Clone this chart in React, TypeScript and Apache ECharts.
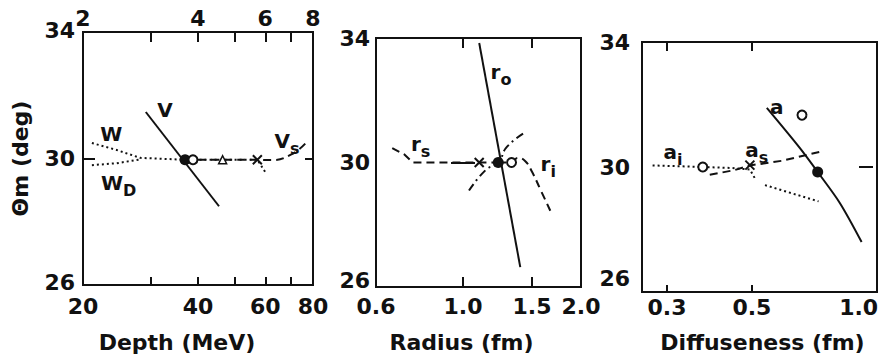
import React, { useEffect, useRef } from 'react';
import * as echarts from 'echarts';

const L = (v: number) => Math.log10(v);

// ---------- Panel 1: Depth (MeV) ----------
const depthRange = [20, 80];
const depthTicks = [30, 40, 50, 60, 70];
const depthLabels = ['20', '40', '60', '80'];
const depthTopLabels = ['2', '4', '6', '8'];
const curveW = [[21.1, 30.49], [24.5, 30.27], [28.2, 30.02], [37, 29.96], [46.4, 29.96], [57.2, 29.96], [60, 29.57]];
const curveWD = [[21.1, 29.79], [24.5, 29.85], [28.2, 29.97]];
const curveV = [[29.2, 31.47], [45.4, 28.49]];
const curveVs = [[37, 29.96], [46.4, 29.96], [57.2, 29.96], [62, 29.95], [70, 30.12], [77, 30.52]];
const depthFilled = [[37, 29.96]];
const depthOpen = [[38.8, 29.96]];
const depthTriangle = [[46.4, 29.96]];
const depthCross = [[57.2, 29.96]];
const depthNotes = [
  { text: '{m|V}', x: 32.8, y: 31.53 },
  { text: '{m|W}', x: 23.7, y: 30.77 },
  { text: '{m|W}{s|D}', x: 24.8, y: 29.22 },
  { text: '{m|V}{s|s}', x: 68.4, y: 30.55 },
];

// ---------- Panel 2: Radius (fm) ----------
const radiusRange = [0.6, 2.0];
const radiusTicks = [1.0, 1.5];
const radiusLabels = ['0.6', '1.0', '1.5', '2.0'];
const curveRo = [[1.10, 33.84], [1.40, 26.64]];
const curveRs = [[0.66, 30.46], [0.71, 30.25], [0.744, 30.0], [0.9, 30.0], [1.10, 30.0], [1.23, 30.0]];
const curveRi = [[1.23, 30.0], [1.33, 30.0], [1.38, 30.15], [1.44, 30.05], [1.50, 29.7], [1.58, 29.1], [1.67, 28.45]];
const curveRdd = [[1.036, 29.1], [1.143, 29.76], [1.23, 30.0], [1.294, 30.5], [1.445, 30.98]];
const radiusFilled = [[1.23, 30.0]];
const radiusOpen = [[1.33, 30.0]];
const radiusCross = [[1.10, 30.0]];
const radiusNotes = [
  { text: '{m|r}{s|o}', x: 1.25, y: 32.9 },
  { text: '{m|r}{s|s}', x: 0.78, y: 30.59 },
  { text: '{m|r}{s|i}', x: 1.65, y: 29.95 },
];

// ---------- Panel 3: Diffuseness (fm) ----------
const diffRange = [0.258, 1.062];
const diffTicks = [0.3, 0.5];
const diffLabels = ['0.3', '0.5', '1.0'];
const curveA = [[0.547, 31.89], [0.667, 30.61], [0.743, 29.84], [0.849, 28.85], [0.968, 27.6]];
const curveAi = [[0.275, 30.05], [0.372, 30.0], [0.44, 29.97], [0.494, 29.92], [0.51, 29.62], [null, null], [0.541, 29.42], [0.62, 29.2], [0.747, 28.9]];
const curveAs = [[0.388, 29.75], [0.45, 29.9], [0.494, 30.05], [0.60, 30.2], [0.75, 30.48]];
const diffFilled = [[0.743, 29.84]];
const diffOpen = [[0.372, 30.0], [0.676, 31.66]];
const diffCross = [[0.494, 30.06]];
const diffNotes = [
  { text: '{m|a}', x: 0.581, y: 31.92 },
  { text: '{m|a}{s|i}', x: 0.311, y: 30.48 },
  { text: '{m|a}{s|s}', x: 0.515, y: 30.54 },
];

const yRange = [26, 34];
const yLabels = [26, 30, 34];
const yTicks = [30];

const INK = '#111111';
const FONT = 'DejaVu Sans';

const toXY = (pts: any[]) => pts.map((p) => (p[0] == null ? [null, null] : [L(p[0]), p[1]]));

export default function App() {
  const ref = useRef<HTMLDivElement>(null);
  useEffect(() => {
    if (!ref.current) return;
    const chart = echarts.init(ref.current, undefined, { renderer: 'svg' });

    const txt = { fontFamily: FONT, fontWeight: 'bold' as const, fontSize: 22, color: INK };
    const gridBase = { show: true, borderColor: INK, borderWidth: 2, backgroundColor: 'transparent', outerBoundsMode: 'none' };

    const xBottom = (grid: number, range: number[], ticks: number[], labels: string[], name: string, opts: any) => {
      const maxLabelPos = L(range[1]) - (opts.edgeRoom || 0);
      const pos = labels.map((s) => Math.min(L(parseFloat(s)), maxLabelPos));
      return {
        type: 'value', gridIndex: grid, position: 'bottom',
        min: L(range[0]), max: L(range[1]),
        axisLine: { show: false },
        splitLine: { show: false },
        axisTick: { show: true, inside: true, length: opts.tickLen, lineStyle: { color: INK, width: 2 }, customValues: ticks.map(L) },
        axisLabel: {
          ...txt, margin: opts.labelMargin,
          customValues: pos,
          formatter: (v: number) => {
            let best = -1, bd = Infinity;
            pos.forEach((p, i) => { const d = Math.abs(p - v); if (d < bd) { bd = d; best = i; } });
            return best >= 0 && bd < 1e-6 ? labels[best] : '';
          },
        },
        name, nameLocation: 'middle', nameGap: opts.nameGap,
        nameTextStyle: { ...txt, padding: opts.namePad },
      };
    };
    const xTop = (grid: number, range: number[], ticks: number[], labels: string[] | null, topLabels: string[] | null, tickLen: number) => ({
      type: 'value', gridIndex: grid, position: 'top',
      min: L(range[0]), max: L(range[1]),
      axisLine: { show: false },
      splitLine: { show: false },
      axisTick: { show: true, inside: true, length: tickLen, lineStyle: { color: INK, width: 2 }, customValues: ticks.map(L) },
      axisLabel: labels && topLabels
        ? { ...txt, margin: 3, customValues: labels.map((s) => L(parseFloat(s))), formatter: (v: number) => {
            const i = labels.findIndex((s) => Math.abs(L(parseFloat(s)) - v) < 1e-6);
            return i >= 0 ? topLabels[i] : '';
          } }
        : { show: false },
    });
    const yAxis = (grid: number, side: 'left' | 'right', opts: any) => ({
      type: 'value', gridIndex: grid, position: side,
      min: yRange[0], max: yRange[1],
      axisLine: { show: false },
      splitLine: { show: false },
      axisTick: { show: true, inside: true, length: opts.tickLen, lineStyle: { color: INK, width: 2 }, customValues: yTicks },
      axisLabel: side === 'left'
        ? {
            ...txt, margin: opts.margin, customValues: yLabels,
            formatter: (v: number) => (v === yRange[0] ? `{lo|${v}}` : v === yRange[1] ? `{hi|${v}}` : `{n|${v}}`),
            rich: {
              n: { ...txt },
              lo: { ...txt, padding: [0, 0, opts.loLift, 0] },
              hi: { ...txt, padding: [0, 0, opts.hiLift, 0] },
            },
          }
        : { show: false },
      ...(opts.name ? {
        name: opts.name, nameLocation: 'middle', nameGap: opts.nameGap, nameRotate: 90,
        nameTextStyle: { ...txt },
      } : {}),
    });

    const line = (data: any[], xi: number, type: any, smooth: any = false) => ({
      type: 'line', xAxisIndex: xi, yAxisIndex: xi, data: toXY(data),
      symbol: 'none', smooth, connectNulls: false, z: 2,
      lineStyle: { color: INK, width: 2, type, cap: 'butt' },
    });
    const marker = (data: any[], xi: number, kind: 'filled' | 'open' | 'triangle' | 'cross') => {
      const common = { type: 'scatter', xAxisIndex: xi, yAxisIndex: xi, data: toXY(data), z: 5 };
      if (kind === 'filled') return { ...common, symbol: 'circle', symbolSize: 11, itemStyle: { color: INK, opacity: 1 } };
      if (kind === 'open') return { ...common, symbol: 'circle', symbolSize: 9, itemStyle: { color: '#fff', borderColor: INK, borderWidth: 2, opacity: 1 } };
      if (kind === 'triangle') return { ...common, symbol: 'triangle', symbolSize: 8, itemStyle: { color: '#fff', borderColor: INK, borderWidth: 1.5, opacity: 1 } };
      return { ...common, symbol: 'path://M0,0L10,10M10,0L0,10', symbolSize: 9, itemStyle: { color: 'rgba(0,0,0,0)', borderColor: INK, borderWidth: 2, opacity: 1 } };
    };
    const notes = (items: any[], xi: number) => ({
      type: 'scatter', xAxisIndex: xi, yAxisIndex: xi, z: 6,
      symbol: 'circle', symbolSize: 1, itemStyle: { color: 'rgba(0,0,0,0)', opacity: 1 },
      data: items.map((n) => ({ value: [L(n.x), n.y], name: n.text })),
      label: {
        show: true, position: 'inside', formatter: (p: any) => p.name,
        color: INK, textBorderWidth: 0, textShadowBlur: 0, opacity: 1,
        rich: {
          m: { fontFamily: FONT, fontWeight: 'bold', fontSize: 20, lineHeight: 20, color: INK, textBorderWidth: 0, verticalAlign: 'top' },
          s: { fontFamily: FONT, fontWeight: 'bold', fontSize: 16, lineHeight: 16, color: INK, textBorderWidth: 0, verticalAlign: 'top', padding: [9, 0, 0, 0] },
        },
      },
    });

    const dotted = [2, 3];
    const dashed = [8, 5];
    const dashDot = [8, 4, 2, 4];

    chart.setOption({
      animation: false,
      backgroundColor: '#fff',
      grid: [
        { ...gridBase, left: 83, top: 32, width: 230, height: 253 },
        { ...gridBase, left: 376, top: 38, width: 205, height: 249 },
        { ...gridBase, left: 642, top: 42, width: 235, height: 250 },
      ],
      xAxis: [
        xBottom(0, depthRange, depthTicks, depthLabels, 'Depth (MeV)', { tickLen: 8, labelMargin: 10, nameGap: 46, namePad: [0, 42, 0, 0] }),
        xTop(0, depthRange, depthTicks, depthLabels, depthTopLabels, 10),
        xBottom(1, radiusRange, radiusTicks, radiusLabels, 'Radius (fm)', { tickLen: 10, labelMargin: 8, nameGap: 44, namePad: [0, 34, 0, 0] }),
        xTop(1, radiusRange, radiusTicks, null, null, 10),
        xBottom(2, diffRange, diffTicks, diffLabels, 'Diffuseness (fm)', { tickLen: 7, labelMargin: 4, nameGap: 39, namePad: [0, 0, 0, 6], edgeRoom: 0.048 }),
        xTop(2, diffRange, diffTicks, null, null, 9),
      ],
      yAxis: [
        yAxis(0, 'left', { tickLen: 12, margin: 8, loLift: 6, hiLift: 4, name: 'Θm (deg)', nameGap: 52 }),
        yAxis(0, 'right', { tickLen: 8 }),
        yAxis(1, 'left', { tickLen: 12, margin: 6, loLift: 14, hiLift: 0 }),
        yAxis(1, 'right', { tickLen: 12 }),
        yAxis(2, 'left', { tickLen: 6, margin: 12, loLift: 28, hiLift: 0 }),
        yAxis(2, 'right', { tickLen: 8 }),
      ],
      series: [
        line(curveW, 0, dotted),
        line(curveWD, 0, dotted),
        line(curveV, 0, 'solid'),
        line(curveVs, 0, dashed, true),
        marker(depthFilled, 0, 'filled'),
        marker(depthOpen, 0, 'open'),
        marker(depthTriangle, 0, 'triangle'),
        marker(depthCross, 0, 'cross'),
        notes(depthNotes, 0),

        line(curveRo, 2, 'solid'),
        line(curveRs, 2, dashed),
        line(curveRi, 2, dashed, true),
        line(curveRdd, 2, dashDot, true),
        marker(radiusFilled, 2, 'filled'),
        marker(radiusOpen, 2, 'open'),
        marker(radiusCross, 2, 'cross'),
        notes(radiusNotes, 2),

        line(curveA, 4, 'solid', 0.3),
        line(curveAi, 4, dotted),
        line(curveAs, 4, dashed),
        marker(diffFilled, 4, 'filled'),
        marker(diffOpen, 4, 'open'),
        marker(diffCross, 4, 'cross'),
        notes(diffNotes, 4),
      ],
    });
    return () => chart.dispose();
  }, []);

  return (
    <div
      ref={ref}
      style={{ position: 'fixed', left: 0, top: 0, width: 881, height: 363, background: '#fff' }}
    />
  );
}
